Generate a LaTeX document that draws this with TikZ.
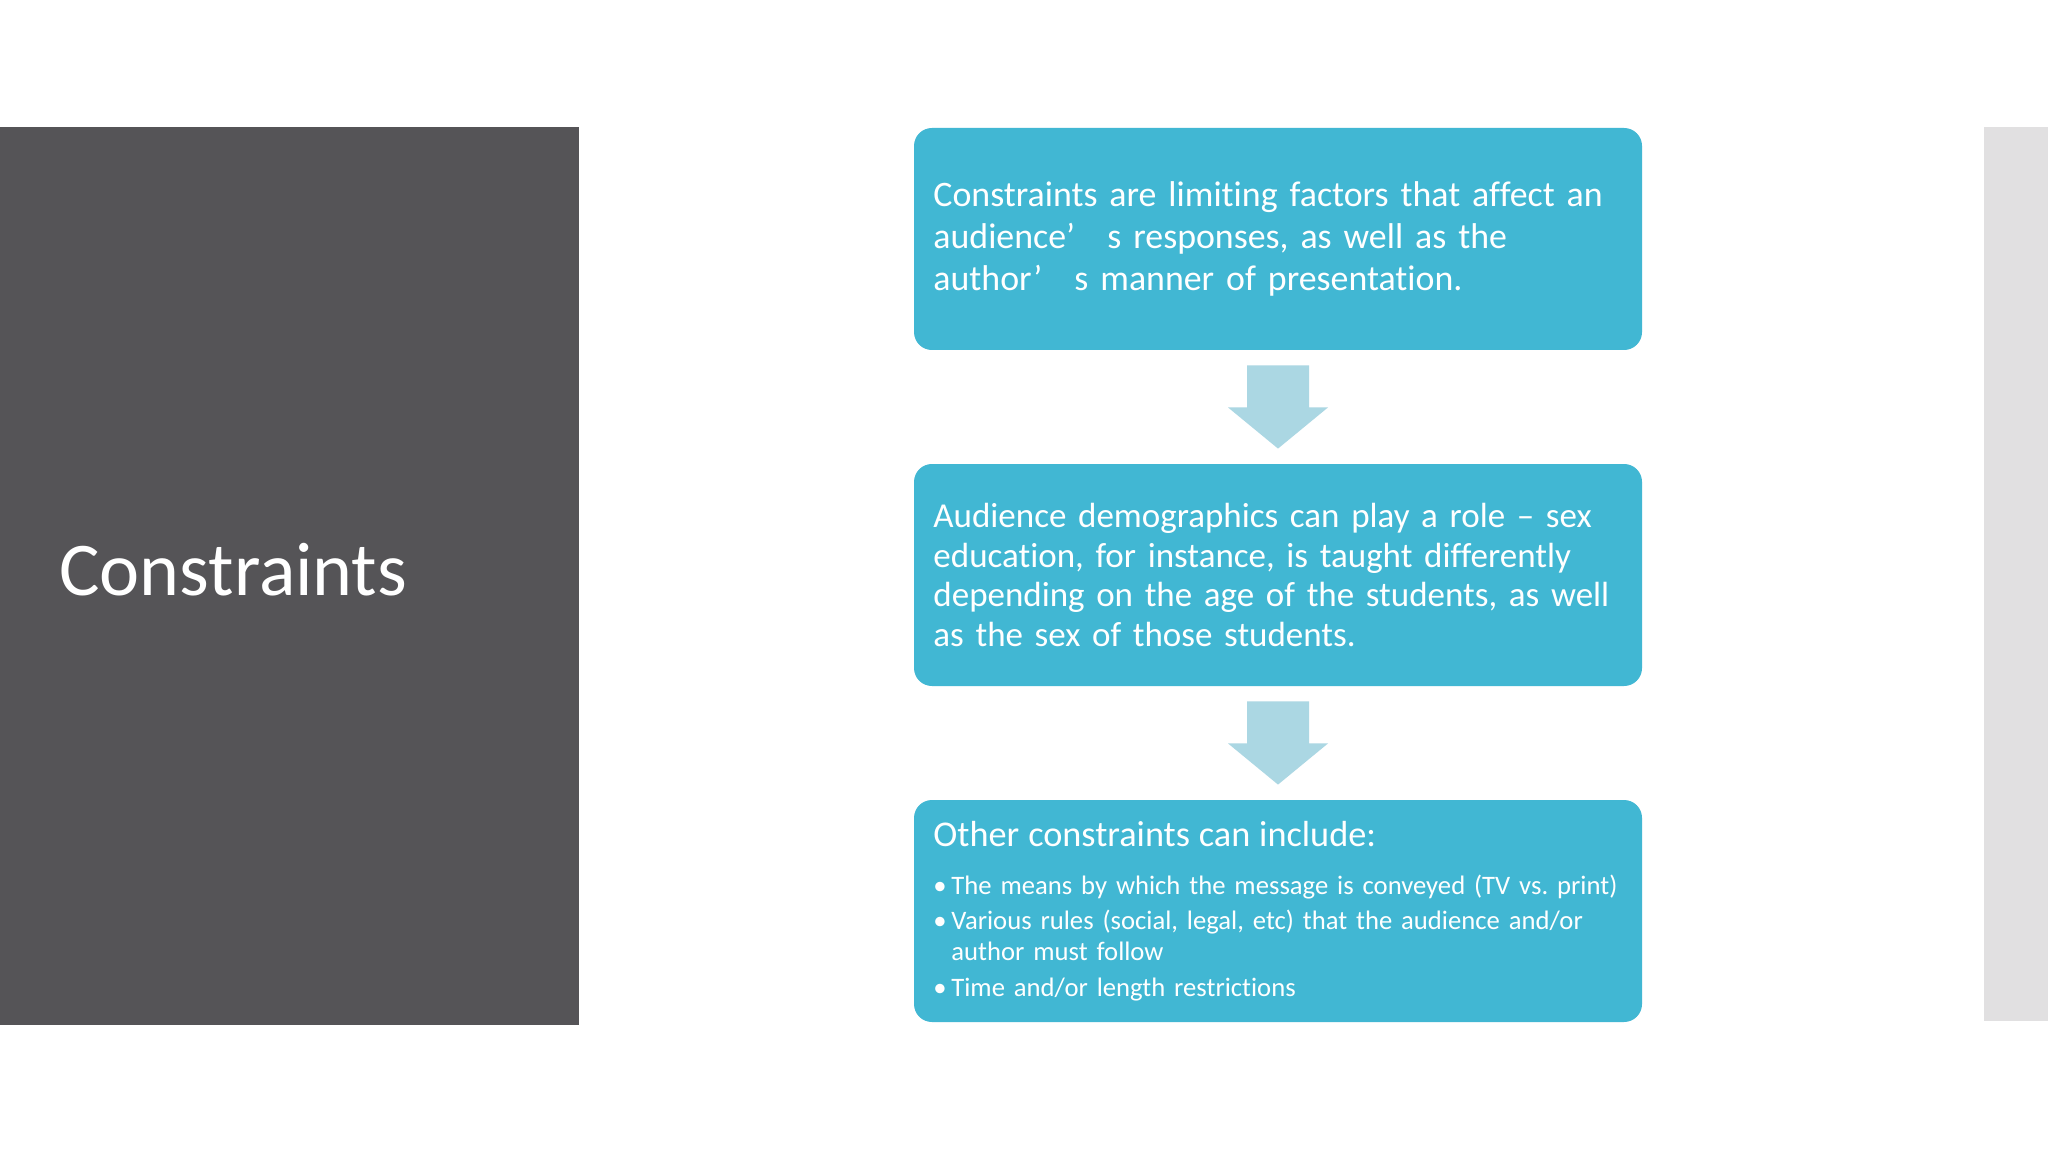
\documentclass[tikz,border=0pt]{standalone}
\usepackage{fontspec}
\setmainfont{Carlito}[Ligatures=NoCommon, WordSpace=0.75]
\frenchspacing
\usetikzlibrary{calc}
\definecolor{panelgrey}{HTML}{555457}
\definecolor{stripgrey}{HTML}{E1E0E1}
\definecolor{boxblue}{HTML}{41B7D3}
\definecolor{arrowblue}{HTML}{ABD7E3}
\tikzset{
  stepbox/.style={fill=boxblue, rounded corners=8.4pt, minimum width=341.25pt,
    minimum height=104.06pt, text width=323pt, inner xsep=9.1pt, inner ysep=0pt,
    align=left, text=white, font=\fontsize{16.8}{19.7}\selectfont},
  downblock/.style={fill=arrowblue},
}
% block arrow from the bottom of one box to the top of the next
\newcommand{\blockarrow}[2]{%
  \fill[downblock] ($(#1.south)+(-31,15)$) -- ($(#1.south)+(31,15)$)
    -- ($(#1.south)+(31,57)$) -- ($(#1.south)+(50,57)$)
    -- ($(#2.north)+(0,-15)$)
    -- ($(#1.south)+(-50,57)$) -- ($(#1.south)+(-31,57)$) -- cycle;}
\newcommand{\bul}{\makebox[8.4pt][l]{•}}

\begin{document}
\begin{tikzpicture}[x=0.46875pt, y=-0.46875pt]
    \useasboundingbox (0,0) rectangle (2048,1152);
    \fill[white] (0,0) rectangle (2048,1152);
    \fill[panelgrey] (0,127) rectangle (579,1025);
    \fill[stripgrey] (1984,127) rectangle (2048,1021);
    \node[anchor=base west, text=white, inner sep=0pt, font=\fontsize{35.6}{40}\selectfont] (title) at (59,595) {Constraints};
    \node[stepbox] (def) at (1278,239) {Constraints are limiting factors that affect an\\
      audience’\hspace{0.9em}s responses, as well as the\\
      author’\hspace{0.9em}s manner of presentation.};
    \node[stepbox, font=\fontsize{16.4}{18.6}\selectfont] (demo) at (1278,575) {Audience demographics can play a role – sex\\
      education, for instance, is taught differently\\
      depending on the age of the students, as well\\
      as the sex of those students.};
    \node[stepbox, font=\fontsize{12.5}{14.5}\selectfont] (other) at (1278,911) {{\fontsize{17}{19}\selectfont Other constraints can include:}\\[8pt]
      \bul The means by which the message is conveyed (TV vs. print)\\[2pt]
      \bul Various rules (social, legal, etc) that the audience and/or\\
      \hspace*{8.4pt}author must follow\\[2.4pt]
      \bul Time and/or length restrictions};
    \blockarrow{def}{demo}
    \blockarrow{demo}{other}
\end{tikzpicture}
\end{document}
